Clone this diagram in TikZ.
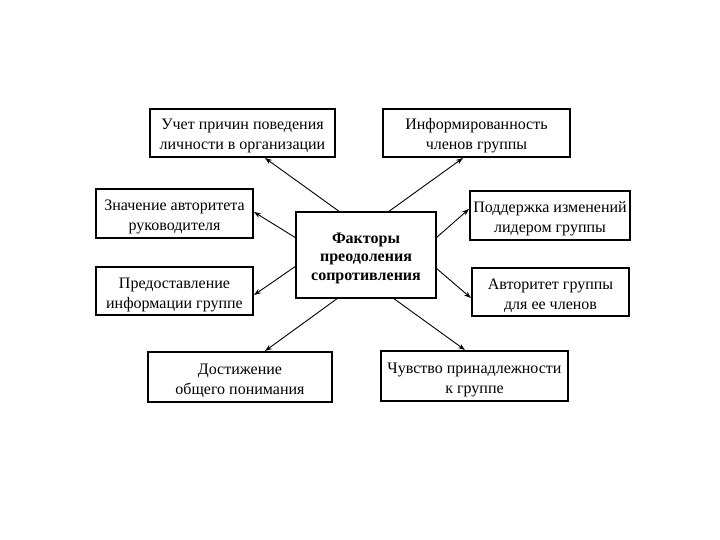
\documentclass[tikz,border=0pt]{standalone}
\usepackage{fontspec}
\setmainfont{Liberation Serif}
\usetikzlibrary{arrows.meta}
\newcommand{\twol}[2]{\raisebox{-3pt}[\height][\depth]{\begin{tabular}{@{}c@{}}#1\\#2\end{tabular}}}
\newcommand{\threel}[3]{\raisebox{-3pt}[\height][\depth]{\begin{tabular}{@{}c@{}}#1\\#2\\#3\end{tabular}}}
\begin{document}
\begin{tikzpicture}[x=1pt,y=-1pt,
  box/.style={draw,line width=1.1pt,fill=white,inner sep=0pt,font=\fontsize{16}{20}\selectfont},
  cbox/.style={draw,line width=2.4pt,fill=white,inner sep=0pt,font=\bfseries\fontsize{16}{18.5}\selectfont},
  arr/.style={-{Stealth[length=7pt,width=5pt]},line width=0.9pt}]
\useasboundingbox (0,0) rectangle (720,540);
\node[cbox,minimum width=140pt,minimum height=86pt] (c) at (366,255) {\threel{Факторы}{преодоления}{сопротивления}};
\node[box,minimum width=185pt,minimum height=48pt] (b1) at (242.5,133) {\twol{Учет причин поведения}{личности в организации}};
\node[box,minimum width=187pt,minimum height=48pt] (b2) at (476.5,133) {\twol{Информированность}{членов группы}};
\node[box,minimum width=157pt,minimum height=49pt] (b3) at (174.5,213.5) {\twol{Значение авторитета}{руководителя}};
\node[box,minimum width=160pt,minimum height=49pt] (b4) at (550,215.5) {\twol{Поддержка изменений}{лидером группы}};
\node[box,minimum width=157pt,minimum height=48pt] (b5) at (174.5,291) {\twol{Предоставление}{информации группе}};
\node[box,minimum width=157pt,minimum height=48pt] (b6) at (550.5,292) {\twol{Авторитет группы}{для ее членов}};
\node[box,minimum width=184pt,minimum height=50pt] (b7) at (240,377) {\twol{Достижение}{общего понимания}};
\node[box,minimum width=187pt,minimum height=50pt] (b8) at (474.5,376) {\twol{Чувство принадлежности}{к группе}};
\coordinate (s1) at (340,212);
\coordinate (s2) at (388,212);
\coordinate (s3) at (296,238);
\coordinate (s4) at (436,238);
\coordinate (s5) at (296,266);
\coordinate (s6) at (436,268);
\coordinate (s7) at (338,298);
\coordinate (s8) at (393,298);
\coordinate (t1) at (265,158);
\coordinate (t2) at (463,158);
\coordinate (t3) at (254,212);
\coordinate (t4) at (469,209);
\coordinate (t5) at (254,295);
\coordinate (t6) at (471,298);
\coordinate (t7) at (265,351);
\coordinate (t8) at (465,350);
\foreach \i in {1,...,8}{\draw[arr] (s\i) -- (t\i);}
\end{tikzpicture}
\end{document}
